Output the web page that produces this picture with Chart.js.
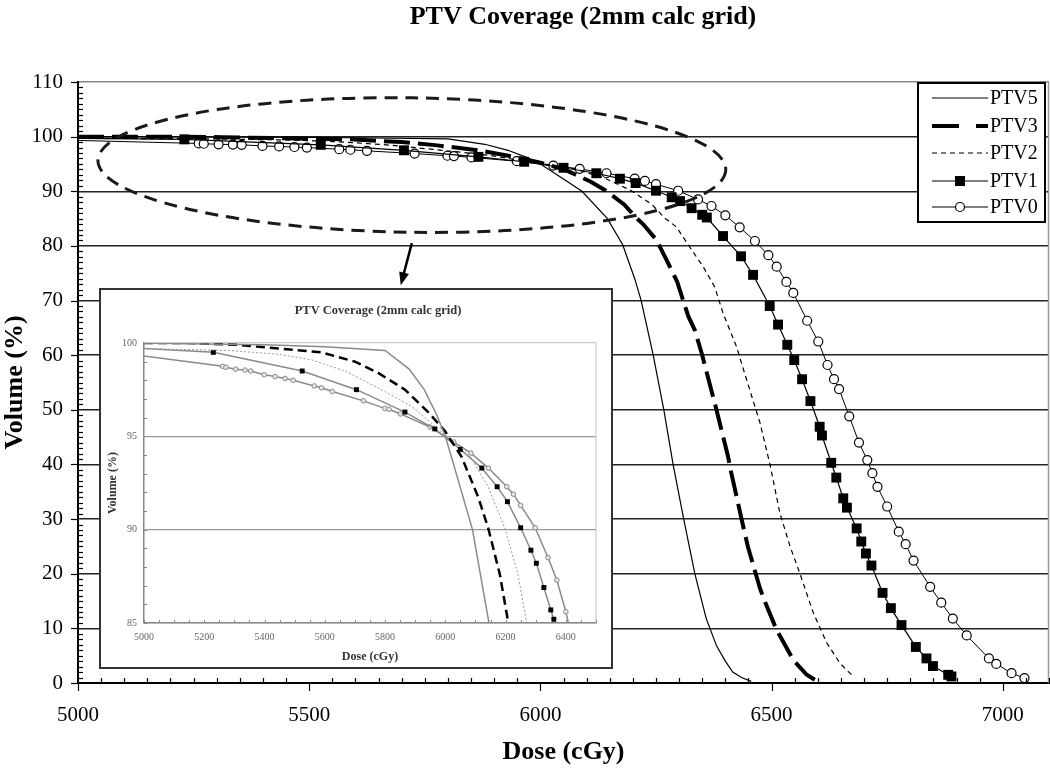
<!DOCTYPE html>
<html>
<head>
<meta charset="utf-8">
<script src="https://cdn.jsdelivr.net/npm/chart.js@4.4.1/dist/chart.umd.min.js"></script>
<style>
  html, body { margin: 0; padding: 0; background: #fff; }
  #wrap { position: relative; width: 1050px; height: 770px; }
  #main { position: absolute; left: 0; top: 0; }
  #insetBox { position: absolute; left: 99px; top: 288px; width: 514px; height: 381px;
              box-sizing: border-box; border: 2px solid #333; background: #fff; }
</style>
</head>
<body>
<div id="wrap">
  <canvas id="main" width="1050" height="770"></canvas>
  <div id="insetBox"><canvas id="inset" width="510" height="377"></canvas></div>
</div>
<script>
// dose (cGy) / volume (%)
const ptv5Dose = [5000, 5200, 5400, 5600, 5800, 5880, 5930, 5970, 6000, 6040, 6090, 6145, 6178, 6204, 6218, 6244, 6267, 6287, 6310, 6334, 6359, 6381, 6400, 6416, 6435, 6456];
const ptv5Vol  = [100, 99.95, 99.9, 99.8, 99.6, 98.6, 97.5, 96.2, 95, 92.8, 90, 85, 80.2, 74, 70, 60, 50, 40, 30, 20, 11.7, 6.8, 4, 2, 1, 0.3];

const ptv3Dose = [5000, 5150, 5313, 5446, 5589, 5700, 5777, 5866, 5943, 5998, 6054, 6109, 6142, 6181, 6208, 6222, 6251, 6273, 6296, 6320, 6334, 6349, 6370, 6380, 6406, 6413, 6442, 6449, 6475, 6484, 6511, 6547, 6576, 6601];
const ptv3Vol  = [100, 100, 99.9, 99.7, 99.5, 99.0, 98.4, 97.5, 96.3, 95.3, 93.9, 91.75, 90.1, 87.6, 85.1, 84.0, 81.1, 77.4, 73.4, 67.1, 64.6, 60.3, 53.5, 50.3, 41.4, 38.4, 27.4, 24.9, 17.3, 15.2, 9.7, 4.2, 1.5, 0.2];

const ptv2Dose = [5000, 5280, 5446, 5556, 5667, 5777, 5888, 5998, 6076, 6142, 6197, 6241, 6269, 6294, 6323, 6352, 6377, 6395, 6424, 6446, 6475, 6496, 6518, 6540, 6561, 6590, 6619, 6648, 6673];
const ptv2Vol  = [99.7, 99.6, 99.4, 99.1, 98.5, 97.6, 96.6, 95.1, 94.1, 92.3, 90.1, 87.6, 85.1, 83.5, 79.8, 76.2, 72.5, 67.7, 61.6, 55.5, 47.6, 40.2, 31.1, 25.0, 20.1, 12.9, 7.4, 3.6, 1.5];

const ptv1Dose = [5000, 5230, 5525, 5705, 5866, 5965, 6050, 6121, 6172, 6206, 6250, 6284, 6302, 6327, 6350, 6360, 6395, 6434, 6460, 6496, 6514, 6534, 6549, 6566, 6584, 6604, 6609, 6629, 6640, 6655, 6663, 6684, 6694, 6704, 6716, 6740, 6758, 6781, 6812, 6835, 6849, 6882, 6889];
const ptv1Vol  = [99.7, 99.5, 98.5, 97.5, 96.3, 95.4, 94.3, 93.3, 92.3, 91.5, 90.1, 88.9, 88.2, 86.9, 85.7, 85.2, 81.8, 78.1, 74.7, 69.0, 65.6, 61.9, 59.1, 55.6, 51.6, 46.9, 45.3, 40.3, 37.6, 33.8, 32.1, 28.3, 25.9, 23.7, 21.5, 16.5, 13.7, 10.6, 6.6, 4.5, 3.1, 1.5, 1.2];

const ptv0Dose = [5000, 5261, 5272, 5304, 5335, 5354, 5399, 5435, 5468, 5495, 5565, 5589, 5625, 5728, 5799, 5813, 5851, 5949, 6028, 6085, 6143, 6204, 6226, 6250, 6298, 6341, 6370, 6400, 6431, 6464, 6493, 6511, 6532, 6547, 6577, 6601, 6621, 6635, 6646, 6668, 6689, 6707, 6718, 6729, 6750, 6775, 6790, 6807, 6843, 6867, 6892, 6922, 6970, 6986, 7019, 7047];
const ptv0Vol  = [99.3, 98.75, 98.7, 98.6, 98.55, 98.5, 98.3, 98.2, 98.1, 98.0, 97.7, 97.6, 97.4, 96.9, 96.5, 96.45, 96.2, 95.5, 94.7, 94.1, 93.3, 92.3, 91.9, 91.3, 90.1, 88.5, 87.3, 85.6, 83.4, 80.9, 78.3, 76.2, 73.4, 71.4, 66.3, 62.5, 58.2, 55.6, 53.8, 48.8, 44.0, 40.8, 38.4, 35.9, 32.3, 27.7, 25.4, 22.4, 17.6, 14.7, 11.8, 8.7, 4.5, 3.5, 1.8, 0.9];

const seriesNames = ['PTV5', 'PTV3', 'PTV2', 'PTV1', 'PTV0'];
const chartTitle = 'PTV Coverage (2mm calc grid)';
const xTitle = 'Dose (cGy)';
const yTitle = 'Volume (%)';

// tick labels
const mainXTicks = [5000, 5500, 6000, 6500, 7000];
const mainYTicks = [0, 10, 20, 30, 40, 50, 60, 70, 80, 90, 100, 110];
const insetXTicks = [5000, 5200, 5400, 5600, 5800, 6000, 6200, 6400];
const insetYTicks = [85, 90, 95, 100];

// callout ellipse (center dose, center vol, radius dose, radius vol) and arrow
const calloutEllipse = [5722, 94.8, 679, 12.3];
const calloutArrow = [5722, 80.5, 5698, 72.8];

const serif = '"Liberation Serif", "Times New Roman", serif';

function pts(d, v) {
  return d.map((x, i) => ({ x: x, y: v[i] }));
}
function hideFirst(r) {
  return c => (c.dataIndex === 0 ? 0 : r);
}
function fixTicks(list) {
  return s => { s.ticks = list.map(v => ({ value: v })); };
}
function seg(ctx, x1, y1, x2, y2) {
  ctx.beginPath(); ctx.moveTo(x1, y1); ctx.lineTo(x2, y2); ctx.stroke();
}

/* ---------- main chart ---------- */
const mainDecor = {
  id: 'mainDecor',
  afterDraw(chart) {
    const ctx = chart.ctx, xs = chart.scales.x, ys = chart.scales.y, a = chart.chartArea;
    ctx.save();

    // right frame line
    ctx.strokeStyle = '#999'; ctx.lineWidth = 1.5;
    seg(ctx, a.right - 0.5, a.top, a.right - 0.5, a.bottom);

    // tick marks
    ctx.strokeStyle = '#000'; ctx.lineWidth = 1.2;
    for (let v = 5000; v <= 7100; v += 50) {
      const px = Math.round(xs.getPixelForValue(v)) + 0.5;
      if (v % 500 === 0) seg(ctx, px, a.bottom, px, a.bottom + 8);
      else seg(ctx, px, a.bottom - 5, px, a.bottom);
    }
    for (let v = 0; v <= 110; v += 1) {
      const py = Math.round(ys.getPixelForValue(v)) + 0.5;
      if (v % 10 === 0) seg(ctx, a.left - 7, py, a.left, py);
      else seg(ctx, a.left, py, a.left + 5, py);
    }

    // dashed ellipse
    const cx = xs.getPixelForValue(calloutEllipse[0]);
    const cy = ys.getPixelForValue(calloutEllipse[1]);
    const rx = xs.getPixelForValue(calloutEllipse[0] + calloutEllipse[2]) - cx;
    const ry = cy - ys.getPixelForValue(calloutEllipse[1] + calloutEllipse[3]);
    ctx.strokeStyle = '#1a1a1a'; ctx.lineWidth = 3; ctx.setLineDash([13, 8]);
    ctx.beginPath(); ctx.ellipse(cx, cy, rx, ry, 0.015, 0, Math.PI * 2); ctx.stroke();
    ctx.setLineDash([]);

    // arrow
    const ax1 = xs.getPixelForValue(calloutArrow[0]), ay1 = ys.getPixelForValue(calloutArrow[1]);
    const ax2 = xs.getPixelForValue(calloutArrow[2]), ay2 = ys.getPixelForValue(calloutArrow[3]);
    const ang = Math.atan2(ay2 - ay1, ax2 - ax1);
    ctx.strokeStyle = '#000'; ctx.fillStyle = '#000'; ctx.lineWidth = 2.5;
    seg(ctx, ax1, ay1, ax2 - 9 * Math.cos(ang), ay2 - 9 * Math.sin(ang));
    ctx.beginPath();
    ctx.moveTo(ax2, ay2);
    ctx.lineTo(ax2 - 13 * Math.cos(ang) + 5 * Math.sin(ang), ay2 - 13 * Math.sin(ang) - 5 * Math.cos(ang));
    ctx.lineTo(ax2 - 13 * Math.cos(ang) - 5 * Math.sin(ang), ay2 - 13 * Math.sin(ang) + 5 * Math.cos(ang));
    ctx.closePath(); ctx.fill();

    // legend
    const lx = 918, ly = 83, lw = 127, lh = 139;
    ctx.fillStyle = '#fff'; ctx.fillRect(lx, ly, lw, lh);
    ctx.strokeStyle = '#000'; ctx.lineWidth = 2; ctx.strokeRect(lx, ly, lw, lh);
    const rowY = [98, 126, 153, 181, 207];
    chart.data.datasets.forEach((ds, i) => {
      const y = rowY[i];
      ctx.strokeStyle = '#000';
      ctx.lineWidth = ds.borderWidth;
      ctx.setLineDash(i === 1 ? [27, 17] : (ds.borderDash || []));
      seg(ctx, 932, y, 988, y);
      ctx.setLineDash([]);
      if (i === 3) { ctx.fillStyle = '#000'; ctx.fillRect(955, y - 5, 10, 10); }
      if (i === 4) {
        ctx.fillStyle = '#fff'; ctx.lineWidth = 1.2;
        ctx.beginPath(); ctx.arc(960, y, 4.5, 0, Math.PI * 2); ctx.fill(); ctx.stroke();
      }
      ctx.fillStyle = '#000'; ctx.font = '20px ' + serif;
      ctx.textAlign = 'left'; ctx.textBaseline = 'middle';
      ctx.fillText(ds.label, 990, y + 1);
    });

    // title
    ctx.fillStyle = '#000'; ctx.font = 'bold 26px ' + serif;
    ctx.textAlign = 'center'; ctx.textBaseline = 'middle';
    ctx.fillText(chartTitle, 583, 17);
    ctx.restore();
  }
};

new Chart(document.getElementById('main').getContext('2d'), {
  type: 'line',
  data: {
    datasets: [
      { label: seriesNames[0], data: pts(ptv5Dose, ptv5Vol), borderColor: '#000', borderWidth: 1.2, pointRadius: 0 },
      { label: seriesNames[1], data: pts(ptv3Dose, ptv3Vol), borderColor: '#000', borderWidth: 4, borderDash: [26, 8], pointRadius: 0 },
      { label: seriesNames[2], data: pts(ptv2Dose, ptv2Vol), borderColor: '#000', borderWidth: 1.2, borderDash: [5, 4], pointRadius: 0 },
      { label: seriesNames[3], data: pts(ptv1Dose, ptv1Vol), borderColor: '#000', borderWidth: 1.2,
        pointStyle: 'rect', pointRadius: hideFirst(7), pointBackgroundColor: '#000', pointBorderColor: '#000', pointBorderWidth: 0 },
      { label: seriesNames[4], data: pts(ptv0Dose, ptv0Vol), borderColor: '#000', borderWidth: 1,
        pointStyle: 'circle', pointRadius: hideFirst(4.5), pointBackgroundColor: '#fff', pointBorderColor: '#000', pointBorderWidth: 1.2 }
    ]
  },
  options: {
    responsive: false,
    animation: false,
    tension: 0,
    layout: { autoPadding: false, padding: { top: 82, right: 1, bottom: 2, left: 0 } },
    plugins: { legend: { display: false }, title: { display: false }, tooltip: { enabled: false } },
    scales: {
      x: {
        type: 'linear', min: 5000, max: 7100,
        afterBuildTicks: fixTicks(mainXTicks),
        ticks: { autoSkip: false, maxRotation: 0, padding: 20, color: '#000', font: { family: serif, size: 21 }, callback: v => String(v) },
        grid: { display: false, drawTicks: false },
        border: { display: true, color: '#000', width: 2 },
        title: { display: true, text: xTitle, color: '#000', padding: 0, font: { family: serif, size: 26, weight: 'bold' } },
        afterFit: s => { s.height = 85; s.paddingLeft = 0; s.paddingRight = 0; }
      },
      y: {
        min: 0, max: 110,
        afterBuildTicks: fixTicks(mainYTicks),
        ticks: { autoSkip: false, padding: 15, color: '#000', font: { family: serif, size: 21 }, callback: v => String(v) },
        grid: { color: c => (c.tick && c.tick.value === 110 ? '#888' : '#222'), lineWidth: 1.5, drawTicks: false },
        border: { display: true, color: '#000', width: 2 },
        title: { display: true, text: yTitle, color: '#000', padding: 0, font: { family: serif, size: 26, weight: 'bold' } },
        afterFit: s => { s.width = 78; s.paddingTop = 0; s.paddingBottom = 0; }
      }
    }
  },
  plugins: [mainDecor]
});

/* ---------- inset (zoom on 5000-6500 cGy, 85-100 %) ---------- */
const insetDecor = {
  id: 'insetDecor',
  afterDraw(chart) {
    const ctx = chart.ctx, xs = chart.scales.x, ys = chart.scales.y, a = chart.chartArea;
    ctx.save();
    ctx.strokeStyle = '#ccc'; ctx.lineWidth = 1.2;
    seg(ctx, a.right, a.top, a.right, a.bottom);
    ctx.strokeStyle = '#888'; ctx.lineWidth = 1;
    for (let v = 5000; v <= 6500; v += 50) {
      const px = Math.round(xs.getPixelForValue(v)) + 0.5;
      seg(ctx, px, a.bottom - 3, px, a.bottom);
    }
    for (let v = 85; v <= 100; v += 1) {
      const py = Math.round(ys.getPixelForValue(v)) + 0.5;
      seg(ctx, a.left, py, a.left + 3, py);
    }
    ctx.fillStyle = '#333'; ctx.font = 'bold 12.5px ' + serif;
    ctx.textAlign = 'center'; ctx.textBaseline = 'middle';
    ctx.fillText(chartTitle, 277, 21);
    ctx.restore();
  }
};

new Chart(document.getElementById('inset').getContext('2d'), {
  type: 'line',
  data: {
    datasets: [
      { label: seriesNames[0], data: pts(ptv5Dose, ptv5Vol), borderColor: '#8a8a8a', borderWidth: 1.5, pointRadius: 0 },
      { label: seriesNames[1], data: pts(ptv3Dose, ptv3Vol), borderColor: '#000', borderWidth: 2.5, borderDash: [9, 5], pointRadius: 0 },
      { label: seriesNames[2], data: pts(ptv2Dose, ptv2Vol), borderColor: '#999', borderWidth: 1, borderDash: [2, 2], pointRadius: 0 },
      { label: seriesNames[3], data: pts(ptv1Dose, ptv1Vol), borderColor: '#8a8a8a', borderWidth: 1.5,
        pointStyle: 'rect', pointRadius: hideFirst(3.5), pointBackgroundColor: '#000', pointBorderColor: '#000', pointBorderWidth: 0 },
      { label: seriesNames[4], data: pts(ptv0Dose, ptv0Vol), borderColor: '#8a8a8a', borderWidth: 1.5,
        pointStyle: 'circle', pointRadius: hideFirst(2.3), pointBackgroundColor: '#e6e6e6', pointBorderColor: '#888', pointBorderWidth: 1 }
    ]
  },
  options: {
    responsive: false,
    animation: false,
    layout: { autoPadding: false, padding: { top: 53, right: 15, bottom: 0, left: 0 } },
    plugins: { legend: { display: false }, title: { display: false }, tooltip: { enabled: false } },
    scales: {
      x: {
        type: 'linear', min: 5000, max: 6500,
        afterBuildTicks: fixTicks(insetXTicks),
        ticks: { autoSkip: false, maxRotation: 0, padding: 8, color: '#666', font: { family: serif, size: 10 }, callback: v => String(v) },
        grid: { display: false, drawTicks: false },
        border: { display: true, color: '#888', width: 1.5 },
        title: { display: true, text: xTitle, color: '#333', padding: { top: 0, bottom: 3 }, font: { family: serif, size: 12, weight: 'bold' } },
        afterFit: s => { s.height = 44; s.paddingLeft = 0; s.paddingRight = 0; }
      },
      y: {
        min: 85, max: 100,
        afterBuildTicks: fixTicks(insetYTicks),
        ticks: { autoSkip: false, padding: 7, color: '#666', font: { family: serif, size: 10 }, callback: v => String(v) },
        grid: { color: c => (c.tick && c.tick.value === 100 ? '#ccc' : '#999'), lineWidth: 1.2, drawTicks: false },
        border: { display: true, color: '#888', width: 1.5 },
        title: { display: true, text: yTitle, color: '#333', padding: { top: 5, bottom: 0 }, font: { family: serif, size: 12, weight: 'bold' } },
        afterFit: s => { s.width = 43; s.paddingTop = 0; s.paddingBottom = 0; }
      }
    }
  },
  plugins: [insetDecor]
});
</script>
</body>
</html>
